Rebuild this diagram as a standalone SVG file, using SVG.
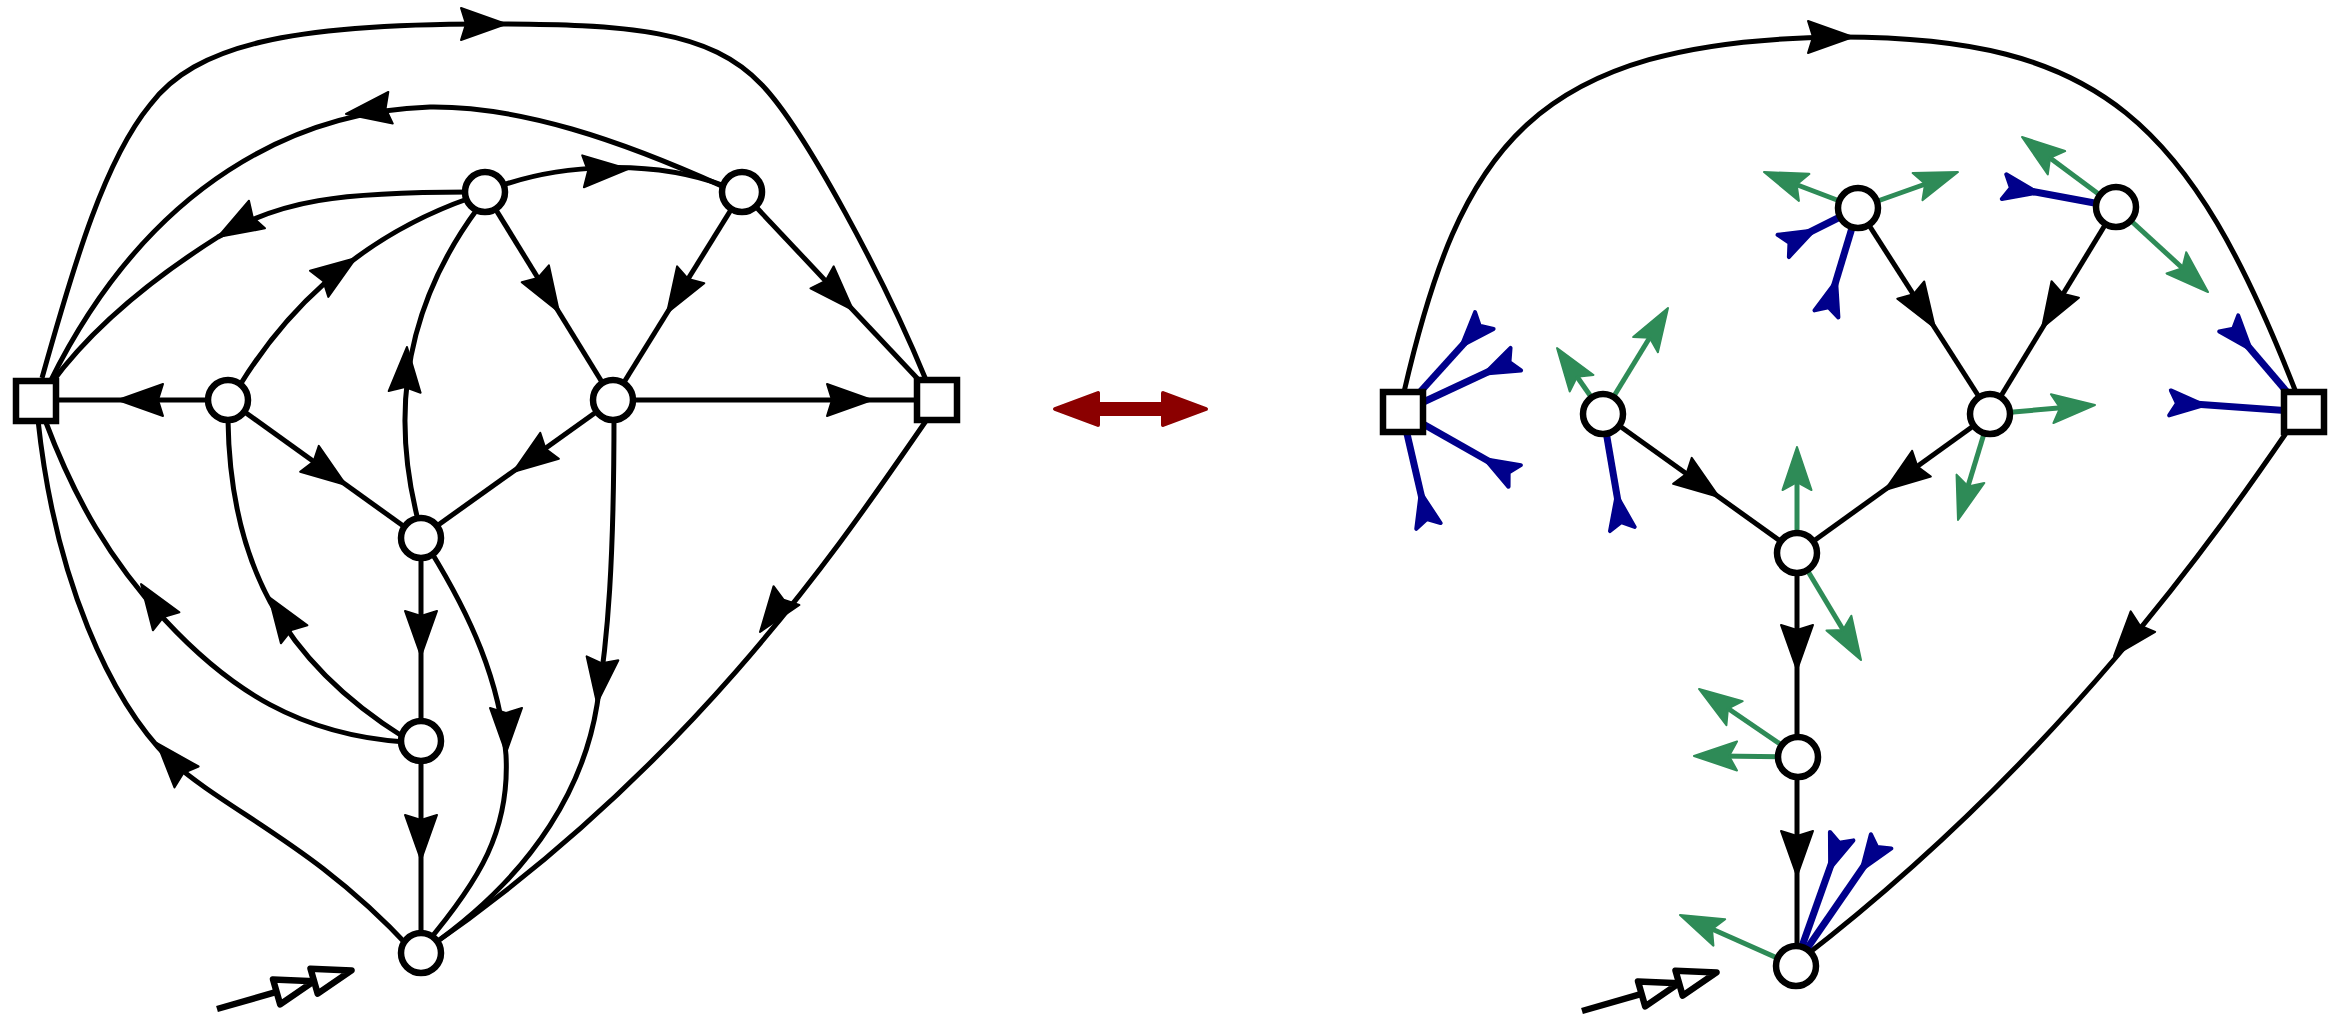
<svg xmlns="http://www.w3.org/2000/svg" xmlns:xlink="http://www.w3.org/1999/xlink" width="2343" height="1019" viewBox="0 0 2343 1019">
<style>
.e{fill:none;stroke:#000;stroke-width:5}
.g{fill:none;stroke:#2E8B57;stroke-width:5}
.b{fill:none;stroke:#00008B;stroke-width:7}
.ak{fill:#000;stroke:#000;stroke-width:2;stroke-linejoin:round}
.gk{fill:#2E8B57;stroke:#2E8B57;stroke-width:2;stroke-linejoin:round}
.bk{fill:#00008B;stroke:#00008B;stroke-width:4;stroke-linejoin:round}
.n{fill:#fff;stroke:#000;stroke-width:6.5}
.dbl{fill:#fff;stroke:#000;stroke-width:6.5;stroke-linejoin:round}
</style>
<defs>
<path id="ah" d="M0,0 L-45,-16 L-40,0 L-45,16 Z"/>
<path id="gh" d="M0,0 L-43,-14.5 L-35,0 L-43,14.5 Z"/>
<path id="bh" d="M-32,0 L2,-12.5 L-5,0 L2,12.5 Z"/>
<g id="dbl"><line x1="0" y1="0" x2="62" y2="0"/><path d="M62,-13 L101,0 L62,13 Z"/><path d="M101,-13 L140,0 L101,13 Z"/></g>
</defs>
<rect width="2343" height="1019" fill="#fff"/>
<g id="connectors">
<!-- left graph edges -->
<path class="e" d="M42 378 C75 260,105 160,150 105 C195 45,290 24,485 24 C630 24,710 30,762 85 C805 130,885 280,926 380"/>
<path class="e" d="M724 187 C620 140,520 106,430 107 C300 111,150 180,50 382"/>
<path class="e" d="M470 192 C340 192,280 200,218 237 C150 280,90 330,50 385"/>
<path class="e" d="M500 186 C560 165,650 158,725 186"/>
<path class="e" d="M240 385 C280 320,350 240,470 198"/>
<line class="e" x1="485" y1="192" x2="613" y2="400"/>
<line class="e" x1="742" y1="192" x2="613" y2="400"/>
<line class="e" x1="742" y1="192" x2="930" y2="392"/>
<line class="e" x1="228" y1="400" x2="36" y2="400"/>
<line class="e" x1="613" y1="400" x2="937" y2="400"/>
<line class="e" x1="228" y1="400" x2="420" y2="538"/>
<line class="e" x1="613" y1="400" x2="420" y2="538"/>
<path class="e" d="M418 520 C395 430,395 320,478 208"/>
<path class="e" d="M38 420 C55 580,110 700,170 760 C228 812,315 845,410 948"/>
<path class="e" d="M45 420 C75 500,110 560,165 620 C230 690,300 735,405 742"/>
<path class="e" d="M228 420 C230 560,280 660,405 738"/>
<line class="e" x1="421" y1="538" x2="421" y2="740"/>
<line class="e" x1="421" y1="740" x2="421" y2="952"/>
<path class="e" d="M430 550 C470 615,500 680,506 755 C510 830,480 880,425 945"/>
<path class="e" d="M614 415 C614 560,608 640,597 705 C585 780,540 870,428 948"/>
<path class="e" d="M928 418 C850 530,700 760,428 948"/>
<use href="#ah" class="ak" transform="translate(506,24)"/>
<use href="#ah" class="ak" transform="translate(346,114) rotate(172)"/>
<use href="#ah" class="ak" transform="translate(218,237) rotate(150)"/>
<use href="#ah" class="ak" transform="translate(628,169) rotate(-3)"/>
<use href="#ah" class="ak" transform="translate(356,258) rotate(-35)"/>
<use href="#ah" class="ak" transform="translate(559,312) rotate(58.2)"/>
<use href="#ah" class="ak" transform="translate(667,313) rotate(121.8)"/>
<use href="#ah" class="ak" transform="translate(853,310) rotate(46.6)"/>
<use href="#ah" class="ak" transform="translate(118,400) rotate(180)"/>
<use href="#ah" class="ak" transform="translate(872,400)"/>
<use href="#ah" class="ak" transform="translate(346,485) rotate(35.7)"/>
<use href="#ah" class="ak" transform="translate(513,472) rotate(144.4)"/>
<use href="#ah" class="ak" transform="translate(407,347) rotate(-87)"/>
<use href="#ah" class="ak" transform="translate(157,743) rotate(229)"/>
<use href="#ah" class="ak" transform="translate(141,584) rotate(236)"/>
<use href="#ah" class="ak" transform="translate(269,597) rotate(236)"/>
<use href="#ah" class="ak" transform="translate(421,656) rotate(90)"/>
<use href="#ah" class="ak" transform="translate(421,860) rotate(90)"/>
<use href="#ah" class="ak" transform="translate(506,753) rotate(90)"/>
<use href="#ah" class="ak" transform="translate(597,703) rotate(97)"/>
<use href="#ah" class="ak" transform="translate(760,632) rotate(126)"/>
<use href="#dbl" class="dbl" transform="translate(217,1009) rotate(-16)"/>
<!-- equivalence arrow -->
<path d="M1055,409 L1098,393 L1098,404 L1163,404 L1163,393 L1206,409 L1163,425 L1163,414 L1098,414 L1098,425 Z" fill="#8B0000" stroke="#8B0000" stroke-width="4" stroke-linejoin="round"/>
<!-- right graph edges -->
<path class="e" d="M1404 392 C1460 150,1530 40,1840 37 C2100 37,2190 120,2297 395"/>
<line class="e" x1="1858" y1="208" x2="1990" y2="414"/>
<line class="e" x1="2116" y1="207" x2="1990" y2="414"/>
<line class="e" x1="1603" y1="414" x2="1797" y2="553"/>
<line class="e" x1="1990" y1="414" x2="1797" y2="553"/>
<line class="e" x1="1797" y1="553" x2="1797" y2="757"/>
<line class="e" x1="1797" y1="757" x2="1797" y2="966"/>
<path class="e" d="M2295 420 C2220 530,2060 760,1800 960"/>
<use href="#ah" class="ak" transform="translate(1853,37)"/>
<use href="#ah" class="ak" transform="translate(1935,328) rotate(57.4)"/>
<use href="#ah" class="ak" transform="translate(2042,328) rotate(121.1)"/>
<use href="#ah" class="ak" transform="translate(1719,497) rotate(35.6)"/>
<use href="#ah" class="ak" transform="translate(1885,490) rotate(144.2)"/>
<use href="#ah" class="ak" transform="translate(1797,670) rotate(90)"/>
<use href="#ah" class="ak" transform="translate(1797,876) rotate(90)"/>
<use href="#ah" class="ak" transform="translate(2114,656) rotate(130)"/>
<use href="#dbl" class="dbl" transform="translate(1582,1011) rotate(-16)"/>
<!-- green edges -->
<line class="g" x1="1858" y1="208" x2="1787" y2="181"/><use href="#gh" class="gk" transform="translate(1764,172) rotate(-159)"/>
<line class="g" x1="1858" y1="208" x2="1934" y2="181"/><use href="#gh" class="gk" transform="translate(1958,172) rotate(-19.8)"/>
<line class="g" x1="2116" y1="207" x2="2042" y2="152"/><use href="#gh" class="gk" transform="translate(2022,137) rotate(-143.3)"/>
<line class="g" x1="2116" y1="207" x2="2190" y2="275"/><use href="#gh" class="gk" transform="translate(2208,292) rotate(42.7)"/>
<line class="g" x1="1603" y1="414" x2="1571" y2="368"/><use href="#gh" class="gk" transform="translate(1557,348) rotate(-124.9)"/>
<line class="g" x1="1603" y1="414" x2="1655" y2="329"/><use href="#gh" class="gk" transform="translate(1668,308) rotate(-58.5)"/>
<line class="g" x1="1990" y1="414" x2="2070" y2="407"/><use href="#gh" class="gk" transform="translate(2095,405) rotate(-4.9)"/>
<line class="g" x1="1990" y1="414" x2="1965" y2="496"/><use href="#gh" class="gk" transform="translate(1958,520) rotate(106.8)"/>
<line class="g" x1="1797" y1="553" x2="1797" y2="472"/><use href="#gh" class="gk" transform="translate(1797,447) rotate(-90)"/>
<line class="g" x1="1797" y1="553" x2="1848" y2="638"/><use href="#gh" class="gk" transform="translate(1861,660) rotate(59.1)"/>
<line class="g" x1="1799" y1="757" x2="1720" y2="703"/><use href="#gh" class="gk" transform="translate(1699,689) rotate(-145.8)"/>
<line class="g" x1="1799" y1="757" x2="1719" y2="756"/><use href="#gh" class="gk" transform="translate(1694,756) rotate(180)"/>
<line class="g" x1="1795" y1="966" x2="1703" y2="925"/><use href="#gh" class="gk" transform="translate(1680,915) rotate(-156.1)"/>
<!-- blue edges -->
<line class="b" x1="1402" y1="412" x2="1478" y2="328"/><use href="#bh" class="bk" transform="translate(1483,322) rotate(-48)"/>
<line class="b" x1="1402" y1="412" x2="1507" y2="363"/><use href="#bh" class="bk" transform="translate(1514,360) rotate(-24.9)"/>
<line class="b" x1="1402" y1="412" x2="1506" y2="471"/><use href="#bh" class="bk" transform="translate(1513,475) rotate(29.6)"/>
<line class="b" x1="1402" y1="412" x2="1426" y2="516"/><use href="#bh" class="bk" transform="translate(1428,524) rotate(76.9)"/>
<line class="b" x1="1603" y1="414" x2="1621" y2="519"/><use href="#bh" class="bk" transform="translate(1622,527) rotate(80.5)"/>
<line class="b" x1="1858" y1="208" x2="1792" y2="241"/><use href="#bh" class="bk" transform="translate(1785,245) rotate(153.1)"/>
<line class="b" x1="1858" y1="208" x2="1829" y2="304"/><use href="#bh" class="bk" transform="translate(1827,312) rotate(106.6)"/>
<line class="b" x1="2116" y1="207" x2="2014" y2="188"/><use href="#bh" class="bk" transform="translate(2006,187) rotate(-169.7)"/>
<line class="b" x1="2304" y1="412" x2="2235" y2="331"/><use href="#bh" class="bk" transform="translate(2230,325) rotate(-130.4)"/>
<line class="b" x1="2304" y1="412" x2="2180" y2="403"/><use href="#bh" class="bk" transform="translate(2172,403) rotate(-176.1)"/>
<line class="b" x1="1795" y1="966" x2="1838" y2="845"/><use href="#bh" class="bk" transform="translate(1841,838) rotate(-70.2)"/>
<line class="b" x1="1795" y1="966" x2="1875" y2="850"/><use href="#bh" class="bk" transform="translate(1880,843) rotate(-55.3)"/>
</g>
<g id="node-L-sq1"><rect class="n" x="16" y="381" width="40" height="40"/></g>
<g id="node-L-A"><circle class="n" cx="228" cy="400" r="20"/></g>
<g id="node-L-T1"><circle class="n" cx="485" cy="192" r="20"/></g>
<g id="node-L-T2"><circle class="n" cx="742" cy="192" r="20"/></g>
<g id="node-L-M"><circle class="n" cx="613" cy="400" r="20"/></g>
<g id="node-L-sq2"><rect class="n" x="917" y="380" width="40" height="40"/></g>
<g id="node-L-C"><circle class="n" cx="421" cy="538" r="20"/></g>
<g id="node-L-D"><circle class="n" cx="421" cy="741" r="20"/></g>
<g id="node-L-B"><circle class="n" cx="421" cy="953" r="20"/></g>
<g id="node-R-sq1"><rect class="n" x="1383" y="392" width="40" height="40"/></g>
<g id="node-R-P"><circle class="n" cx="1603" cy="414" r="20"/></g>
<g id="node-R-Q"><circle class="n" cx="1858" cy="208" r="20"/></g>
<g id="node-R-R"><circle class="n" cx="2116" cy="207" r="20"/></g>
<g id="node-R-S"><circle class="n" cx="1990" cy="414" r="20"/></g>
<g id="node-R-sq2"><rect class="n" x="2284" y="392" width="40" height="40"/></g>
<g id="node-R-U"><circle class="n" cx="1797" cy="553" r="20"/></g>
<g id="node-R-V"><circle class="n" cx="1798" cy="757" r="20"/></g>
<g id="node-R-W"><circle class="n" cx="1796" cy="966" r="20"/></g>
</svg>
